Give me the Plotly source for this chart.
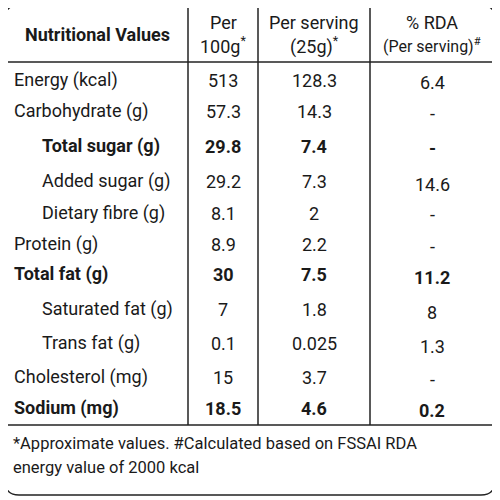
import plotly.graph_objects as go

# table contents
nutrients = ["Energy (kcal)", "Carbohydrate (g)", "Total sugar (g)", "Added sugar (g)",
             "Dietary fibre (g)", "Protein (g)", "Total fat (g)", "Saturated fat (g)",
             "Trans fat (g)", "Cholesterol (mg)", "Sodium (mg)"]
per_100g = ["513", "57.3", "29.8", "29.2", "8.1", "8.9", "30", "7", "0.1", "15", "18.5"]
per_serving = ["128.3", "14.3", "7.4", "7.3", "2", "2.2", "7.5", "1.8", "0.025", "3.7", "4.6"]
rda = ["6.4", "-", "-", "14.6", "-", "-", "11.2", "8", "1.3", "-", "0.2"]
indent = [0, 0, 1, 1, 1, 0, 0, 1, 1, 0, 0]
bold = [0, 0, 1, 0, 0, 0, 1, 0, 0, 0, 1]
row_y = [80, 111, 146, 181, 213, 244, 274, 309, 343, 377, 408]
rda_y = [82, 113, 148, 184, 214, 246, 277, 312, 346, 379, 410]

FONT = "Roboto, Arial"
col_x = [188, 258, 370]
left, right, top, bottom = 5, 495, 5, 495
head_y, foot_y = 62, 425
OFF = 8  # page body margin offset

fig = go.Figure()
fig.add_trace(go.Scatter(x=[OFF, 500], y=[OFF, 500], mode="markers", marker_opacity=0, hoverinfo="skip"))

r = 14
path = (f"M {left + r},{top} L {right - r},{top} Q {right},{top} {right},{top + r} "
        f"L {right},{bottom - r} Q {right},{bottom} {right - r},{bottom} "
        f"L {left + r},{bottom} Q {left},{bottom} {left},{bottom - r} "
        f"L {left},{top + r} Q {left},{top} {left + r},{top} Z")
shapes = [dict(type="path", path=path, line=dict(color="#222", width=1.5))]
for y in [head_y, foot_y]:
    shapes.append(dict(type="line", x0=left, x1=right, y0=y, y1=y, line=dict(color="#222", width=1.5)))
for x in col_x:
    shapes.append(dict(type="line", x0=x, x1=x, y0=top, y1=foot_y, line=dict(color="#222", width=1.5)))

ann = []
def t(x, y, s, b=False, anchor="center", size=18):
    txt = f"<b>{s}</b>" if b else s
    ann.append(dict(x=x, y=y, text=txt, showarrow=False, xanchor=anchor, yanchor="middle",
                    font=dict(family=FONT, size=size, color="#1a1a1a")))

t(97, 34, "Nutritional Values", b=True)
t(223, 22, "Per")
t(223, 45, "100g<sup>*</sup>")
t(314, 22, "Per serving")
t(314, 45, "(25g)<sup>*</sup>")
t(432, 22, "% RDA")
t(432, 45, "(Per serving)<sup>#</sup>", size=16)

for i, name in enumerate(nutrients):
    b = bool(bold[i])
    t(12 + 28 * indent[i], row_y[i], name, b=b, anchor="left")
    t(223, row_y[i], per_100g[i], b=b)
    t(314, row_y[i], per_serving[i], b=b)
    t(432, rda_y[i], rda[i], b=b)

t(11, 443, "*Approximate values. #Calculated based on FSSAI RDA", anchor="left", size=16.5)
t(11, 467, "energy value of 2000 kcal", anchor="left", size=16.5)

fig.update_layout(
    width=500, height=500, margin=dict(l=0, r=0, t=0, b=0),
    plot_bgcolor="white", paper_bgcolor="white", showlegend=False,
    shapes=shapes, annotations=ann,
    xaxis=dict(range=[OFF, 500 + OFF], visible=False, fixedrange=True),
    yaxis=dict(range=[500 + OFF, OFF], visible=False, fixedrange=True),
)
fig.write_html("out.html")
